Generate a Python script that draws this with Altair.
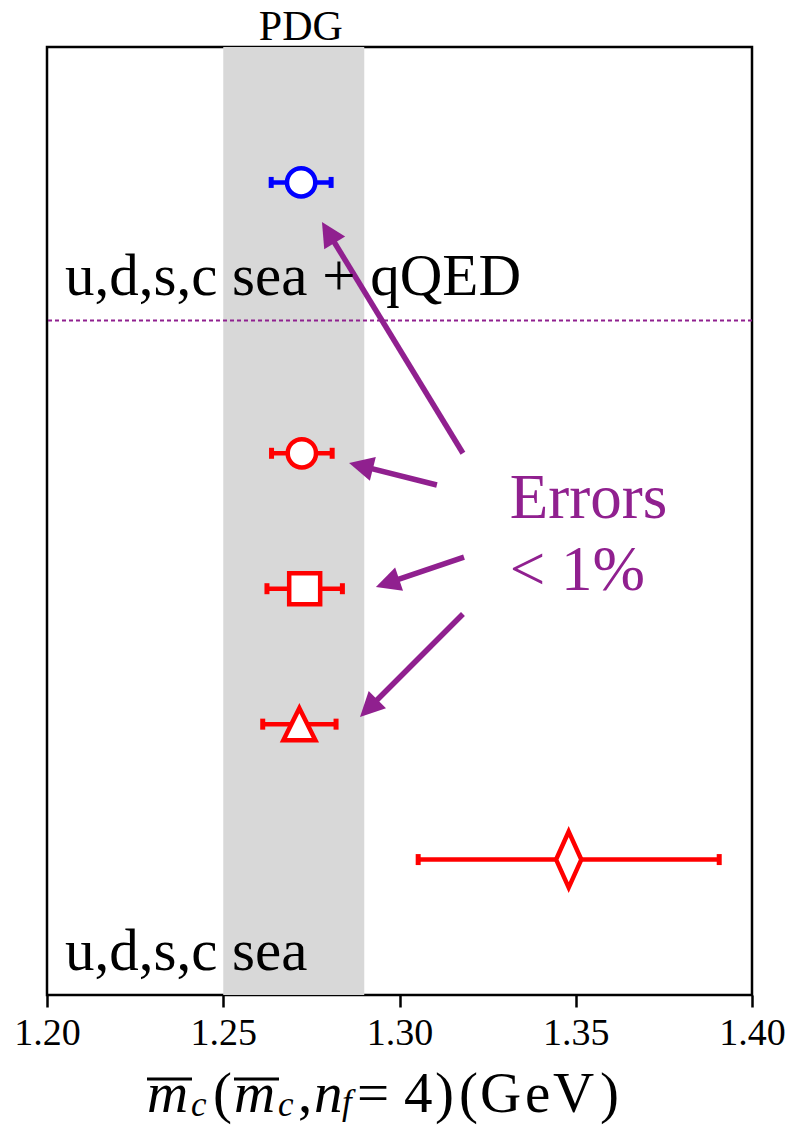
import math
import altair as alt
import pandas as pd

# Plot frame
X_MIN, X_MAX = 1.20, 1.40
Y_MIN, Y_MAX = 0.0, 7.0
W, H = 705, 948
PAD = {"left": 47, "top": 47, "right": 37, "bottom": 131}

PURPLE = "#90208f"
SERIF = "Liberation Serif"

# Charm-quark mass determinations (GeV), one per row
rows = [6, 4, 3, 2, 1]
mc = [1.2721, 1.2723, 1.2731, 1.2716, 1.3480]
mc_err = [0.0085, 0.0086, 0.0107, 0.0104, 0.0427]
group = ["sea+qQED", "sea", "sea", "sea", "sea"]
marker = ["circle", "circle", "square", "triangle", "diamond"]

# PDG band
pdg_range = [1.25, 1.29]

# Row separating the two ensembles
separator_row = [4.98]

# Arrows pointing from the "Errors < 1%" note to the results
arrow_tail_x = [1.3180, 1.3106, 1.3183, 1.3180]
arrow_tail_y = [4.000, 3.766, 3.234, 2.813]
arrow_tip_x = [1.2780, 1.2857, 1.2933, 1.2888]
arrow_tip_y = [5.708, 3.928, 3.013, 2.053]

# Text notes inside the frame
note_text = ["u,d,s,c sea + qQED", "u,d,s,c sea"]
note_x = [1.2051, 1.2051]
note_y = [5.17, 0.185]

err_text = ["Errors", "< 1%"]
err_x = [1.3313, 1.3313]
err_y = [3.52, 2.99]

x_ticks = [1.20, 1.25, 1.30, 1.35, 1.40]

xs = alt.Scale(domain=[X_MIN, X_MAX], nice=False, zero=False)
ys = alt.Scale(domain=[Y_MIN, Y_MAX], nice=False, zero=False)
color_scale = alt.Scale(domain=["sea+qQED", "sea"], range=["#0000ff", "#ff0000"])

MARKER_STYLE = {
    "circle": dict(shape="circle", size=800),
    "square": dict(shape="square", size=960),
    "triangle": dict(shape="M0,-1L1,1L-1,1Z", size=1024),
    "diamond": dict(shape="M0,-1L0.45,0L0,1L-0.45,0Z", size=3136),
}

pts = pd.DataFrame({"row": rows, "mc": mc, "err": mc_err, "group": group, "marker": marker})
pts["lo"] = pts["mc"] - pts["err"]
pts["hi"] = pts["mc"] + pts["err"]

x_axis = alt.Axis(
    values=x_ticks, format=".2f", title=None, domain=False,
    tickColor="black", tickWidth=2.5, tickSize=12,
    labelFont=SERIF, labelFontSize=38, labelColor="black", labelPadding=7,
    labelFlush=False, labelOverlap=False, grid=False,
)

band = alt.Chart(pd.DataFrame({"lo": [pdg_range[0]], "hi": [pdg_range[1]]})).mark_rect(
    color="#d8d8d8"
).encode(
    x=alt.X("lo:Q", scale=xs, axis=x_axis),
    x2="hi:Q",
    y=alt.value(0),
    y2=alt.value(H),
)

sep = alt.Chart(pd.DataFrame({"row": separator_row})).mark_rule(
    color=PURPLE, strokeWidth=2, strokeDash=[4, 3]
).encode(y=alt.Y("row:Q", scale=ys, axis=None))

bars = alt.Chart(pts).mark_rule(strokeWidth=4.5).encode(
    x=alt.X("lo:Q", scale=xs),
    x2="hi:Q",
    y=alt.Y("row:Q", scale=ys, axis=None),
    color=alt.Color("group:N", scale=color_scale, legend=None),
)

caps = []
for end in ["lo", "hi"]:
    caps.append(
        alt.Chart(pts).mark_tick(orient="vertical", size=11, thickness=5, opacity=1).encode(
            x=alt.X(f"{end}:Q", scale=xs),
            y=alt.Y("row:Q", scale=ys, axis=None),
            color=alt.Color("group:N", scale=color_scale, legend=None),
        )
    )

marks = []
for kind, style in MARKER_STYLE.items():
    marks.append(
        alt.Chart(pts).transform_filter(alt.datum.marker == kind).mark_point(
            shape=style["shape"], size=style["size"], filled=False,
            fill="white", fillOpacity=1, strokeWidth=4.5, opacity=1,
        ).encode(
            x=alt.X("mc:Q", scale=xs),
            y=alt.Y("row:Q", scale=ys, axis=None),
            color=alt.Color("group:N", scale=color_scale, legend=None),
        )
    )

# Arrow geometry: rotate heads along the screen-space direction
sx = W / (X_MAX - X_MIN)
sy = H / (Y_MAX - Y_MIN)
HEAD = 12
arr = pd.DataFrame({"x0": arrow_tail_x, "y0": arrow_tail_y, "x1": arrow_tip_x, "y1": arrow_tip_y})
dxp = (arr["x1"] - arr["x0"]) * sx
dyp = -(arr["y1"] - arr["y0"]) * sy
length = (dxp ** 2 + dyp ** 2) ** 0.5
arr["angle"] = [math.degrees(math.atan2(a, -b)) % 360 for a, b in zip(dxp, dyp)]
arr["xe"] = arr["x1"] - (dxp / length) * HEAD / sx
arr["ye"] = arr["y1"] + (dyp / length) * HEAD / sy

shafts = alt.Chart(arr).mark_rule(color=PURPLE, strokeWidth=5.5).encode(
    x=alt.X("x0:Q", scale=xs),
    x2="xe:Q",
    y=alt.Y("y0:Q", scale=ys, axis=None),
    y2="ye:Q",
)

heads = alt.Chart(arr).mark_point(
    shape="M0,0L-1,2L1,2Z", size=600, filled=True, color=PURPLE, opacity=1, strokeWidth=0
).encode(
    x=alt.X("x1:Q", scale=xs),
    y=alt.Y("y1:Q", scale=ys, axis=None),
    angle=alt.Angle("angle:Q", scale=None),
)

notes = alt.Chart(pd.DataFrame({"t": note_text, "x": note_x, "y": note_y})).mark_text(
    font=SERIF, fontSize=59, align="left", baseline="alphabetic", color="black"
).encode(
    x=alt.X("x:Q", scale=xs),
    y=alt.Y("y:Q", scale=ys, axis=None),
    text="t:N",
)

errs = alt.Chart(pd.DataFrame({"t": err_text, "x": err_x, "y": err_y})).mark_text(
    font=SERIF, fontSize=63, align="left", baseline="alphabetic", color=PURPLE
).encode(
    x=alt.X("x:Q", scale=xs),
    y=alt.Y("y:Q", scale=ys, axis=None),
    text="t:N",
)

pdg_label = alt.Chart(pd.DataFrame({"t": ["PDG"], "x": [sum(pdg_range) / 2 + 0.002]})).mark_text(
    font=SERIF, fontSize=42, align="center", baseline="alphabetic", color="black"
).encode(
    x=alt.X("x:Q", scale=xs),
    y=alt.value(-7),
    text="t:N",
)

# x-axis title built from pieces: m̄_c(m̄_c, n_f = 4)(GeV)
BASE = 1112 - PAD["top"]
SUB = 1116 - PAD["top"]
title_pieces = [
    ("m", 147, BASE, "italic", 57),
    ("c", 191, SUB, "italic", 35),
    ("(", 213, BASE, "normal", 57),
    ("m", 234, BASE, "italic", 57),
    ("c", 278, SUB, "italic", 35),
    (",", 298, BASE, "normal", 57),
    ("n", 314, BASE, "italic", 57),
    ("f", 342, SUB - 2, "italic", 35),
    ("=", 357, BASE, "normal", 57),
    ("4", 404, BASE, "normal", 57),
    (")", 435, BASE, "normal", 57),
    ("(", 459, BASE, "normal", 57),
    ("G", 480, BASE, "normal", 57),
    ("e", 525, BASE, "normal", 57),
    ("V", 553, BASE, "normal", 57),
    (")", 600, BASE, "normal", 57),
]
title_layers = []
for txt, px, py, style, fs in title_pieces:
    title_layers.append(
        alt.Chart(pd.DataFrame({"t": [txt]})).mark_text(
            font=SERIF, fontSize=fs, fontStyle=style, align="left",
            baseline="alphabetic", color="black",
        ).encode(x=alt.value(px - PAD["left"]), y=alt.value(py), text="t:N")
    )
for x0, x1 in [(147, 192), (234, 279)]:
    title_layers.append(
        alt.Chart(pd.DataFrame({"t": [0]})).mark_rule(color="black", strokeWidth=3).encode(
            x=alt.value(x0 - PAD["left"]), x2=alt.value(x1 - PAD["left"]),
            y=alt.value(1079 - PAD["top"]),
        )
    )

chart = alt.layer(
    band, sep, bars, *caps, *marks, shafts, heads, notes, errs, pdg_label, *title_layers
).properties(
    width=W, height=H, padding=PAD, autosize=alt.AutoSizeParams(type="none"),
    background="white",
).configure_view(
    stroke="black", strokeWidth=2.5
)

chart.save("out.html", embed_options={"renderer": "svg", "actions": False})
